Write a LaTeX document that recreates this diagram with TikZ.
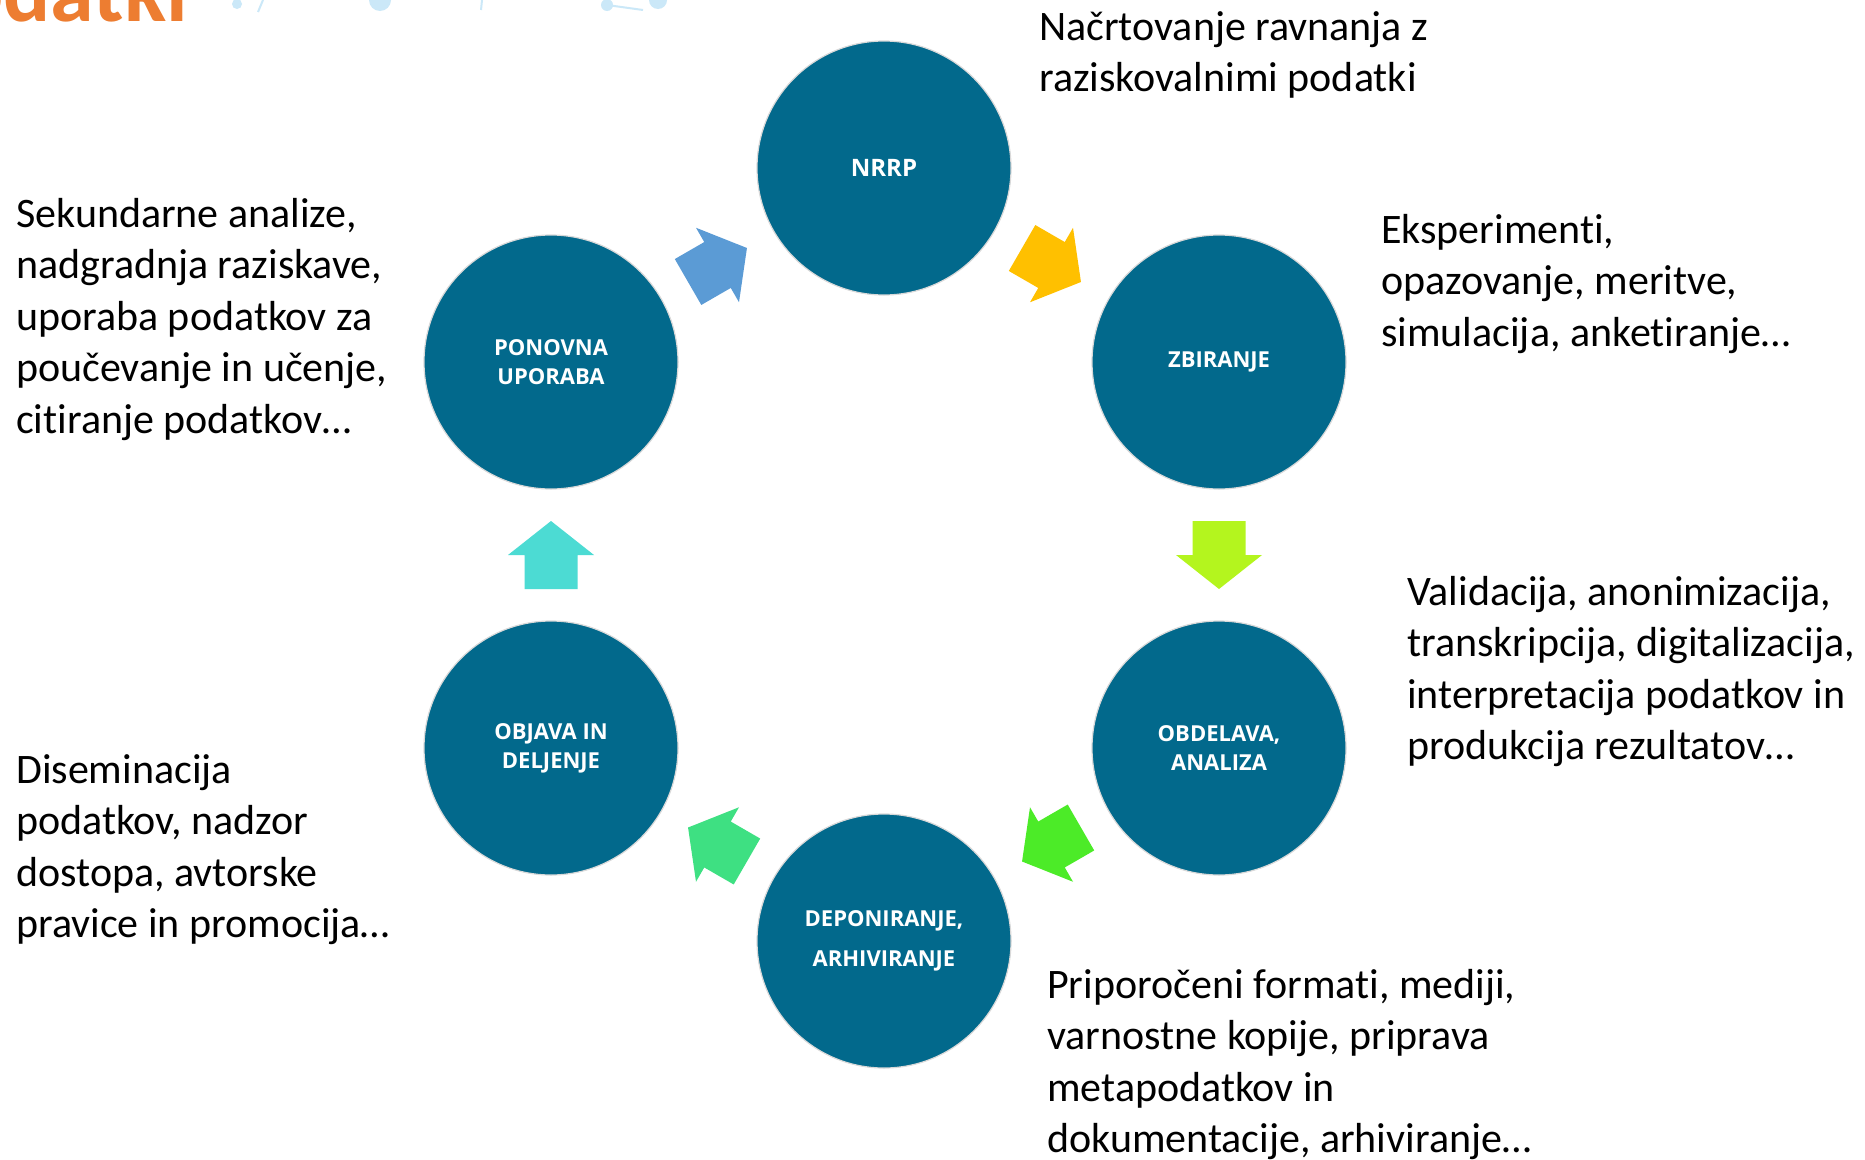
\documentclass[tikz,border=0pt]{standalone}
\usepackage{fontspec}
\setmainfont{Carlito}[Ligatures={NoCommon}]
\newfontfamily\labelfont{Open Sans}
\usetikzlibrary{calc}
\definecolor{circ}{HTML}{02698C}
\definecolor{arBlue}{HTML}{5B9BD5}
\definecolor{arYellow}{HTML}{FFC000}
\definecolor{arLime}{HTML}{B4F51E}
\definecolor{arGreen}{HTML}{4CEB28}
\definecolor{arTeal}{HTML}{3EE082}
\definecolor{arCyan}{HTML}{4CDBD3}
\definecolor{titleOr}{HTML}{ED7D31}
\definecolor{decoBlue}{HTML}{CBE8F8}
\tikzset{
  stage/.style={circle, fill=circ, draw=gray!30, line width=1.2pt,
    minimum size=254pt, inner sep=0pt, text=white, align=center,
    font=\labelfont\bfseries\fontsize{22}{29}\selectfont},
  desc/.style={anchor=north west, inner sep=0pt, align=left,
    font=\fontsize{42}{51.5}\selectfont, text=black},
  barrow/.pic={\path[pic actions] (34,0) -- (0,43) -- (0,26.5) -- (-34,26.5)
    -- (-34,-26.5) -- (0,-26.5) -- (0,-43) -- cycle;},
  deco/.style={decoBlue}
}
\begin{document}
\begin{tikzpicture}[x=1pt,y=-1pt]
\useasboundingbox (0,0) rectangle (1865,1159);
\clip (0,0) rectangle (1865,1159);
\fill[white] (0,0) rectangle (1865,1159);

% partial title and faint decoration at the top edge
\node[anchor=base east, inner sep=0pt, text=titleOr,
  font=\bfseries\fontsize{88}{90}\selectfont] (title) at (188,21) {podatki};
\fill[deco] (237,4) circle (5);
\fill[deco] (380,0) circle (11);
\fill[deco] (607,5) circle (6);
\fill[deco] (658,0) circle (9);
\draw[deco, line width=2pt] (263,0) -- (258,12);
\draw[deco, line width=2pt] (482,0) -- (481,10);
\draw[deco, line width=2pt] (607,5) -- (643,10);

% stages
\node[stage, font=\labelfont\bfseries\fontsize{24}{29}\selectfont] (nrrp) at (884,168) {NRRP};
\node[stage] (zbir) at (1219,362) {ZBIRANJE};
\node[stage] (obde) at (1219,748) {OBDELAVA,\\ANALIZA};
\node[stage, font=\labelfont\bfseries\fontsize{22}{40}\selectfont] (depo) at (884,941) {DEPONIRANJE,\\ARHIVIRANJE};
\node[stage] (objava) at (551,748) {OBJAVA IN\\DELJENJE};
\node[stage] (ponov) at (551,362) {PONOVNA\\UPORABA};

% block arrows between the stages
\pic[rotate=30, fill=arBlue] at ($(ponov)!0.5!(nrrp)$) {barrow};
\pic[rotate=-30, fill=arYellow] at ($(nrrp)!0.5!(zbir)$) {barrow};
\pic[rotate=-90, fill=arLime] at ($(zbir)!0.5!(obde)$) {barrow};
\pic[rotate=-150, fill=arGreen] at ($(obde)!0.5!(depo)$) {barrow};
\pic[rotate=150, fill=arTeal] at ($(depo)!0.5!(objava)$) {barrow};
\pic[rotate=90, fill=arCyan] at ($(objava)!0.5!(ponov)$) {barrow};

% descriptions
\node[desc] (t1) at (1039,4) {\strut Načrtovanje ravnanja z\\raziskovalnimi podatki};
\node[desc] (t2) at (16,191) {\strut Sekundarne analize,\\nadgradnja raziskave,\\uporaba podatkov za\\poučevanje in učenje,\\citiranje podatkov…};
\node[desc] (t3) at (1381,207) {\strut Eksperimenti,\\opazovanje, meritve,\\simulacija, anketiranje…};
\node[desc] (t4) at (1407,569) {\strut Validacija, anonimizacija,\\transkripcija, digitalizacija,\\interpretacija podatkov in\\produkcija rezultatov…};
\node[desc] (t5) at (16,747) {\strut Diseminacija\\podatkov, nadzor\\dostopa, avtorske\\pravice in promocija…};
\node[desc] (t6) at (1047,962) {\strut Priporočeni formati, mediji,\\varnostne kopije, priprava\\metapodatkov in\\dokumentacije, arhiviranje…};
\end{tikzpicture}
\end{document}
